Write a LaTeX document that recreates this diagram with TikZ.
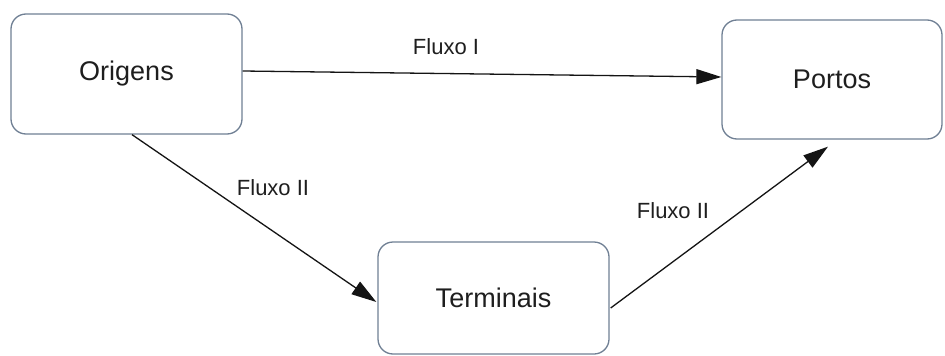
\documentclass[tikz,border=0pt]{standalone}
\usepackage{fontspec}
\setmainfont{Liberation Sans}
\usetikzlibrary{arrows.meta,calc}
\definecolor{boxline}{RGB}{112,128,148}
\definecolor{txt}{RGB}{30,30,30}
\definecolor{arr}{RGB}{20,20,20}
\begin{document}
\begin{tikzpicture}[x=1pt,y=-1pt,
  box/.style={draw=boxline, line width=1.3pt, rounded corners=15pt, fill=white,
    inner sep=0pt, font=\fontsize{27}{30}\selectfont, text=txt},
  flow/.style={draw=arr, line width=1.3pt, -{Triangle[length=25pt,width=15pt]}},
  lbl/.style={font=\fontsize{22}{26}\selectfont, text=txt, inner sep=0pt}]
\path[fill=white] (0,0) rectangle (945,356);
\useasboundingbox (0,0) rectangle (945,356);
\node[box, minimum width=231pt, minimum height=120pt] (origens) at (126.5,74) {Origens};
\node[box, minimum width=220pt, minimum height=119pt] (portos) at (832,79.5) {Portos};
\node[box, minimum width=231pt, minimum height=112pt] (terminais) at (493.5,298) {Terminais};
\draw[flow] ($(origens.east)+(0,-3)$) -- ($(portos.west)+(0,-2.5)$);
\draw[flow] ($(origens.south)+(5.5,0)$) -- ($(terminais.west)+(-1,4)$);
\draw[flow] ($(terminais.east)+(1,10)$) -- ($(portos.south)+(-4,7)$);
\node[lbl] (l1) at (446,47) {Fluxo I};
\node[lbl] (l2) at (273,188) {Fluxo II};
\node[lbl] (l3) at (673,211) {Fluxo II};
\end{tikzpicture}
\end{document}
